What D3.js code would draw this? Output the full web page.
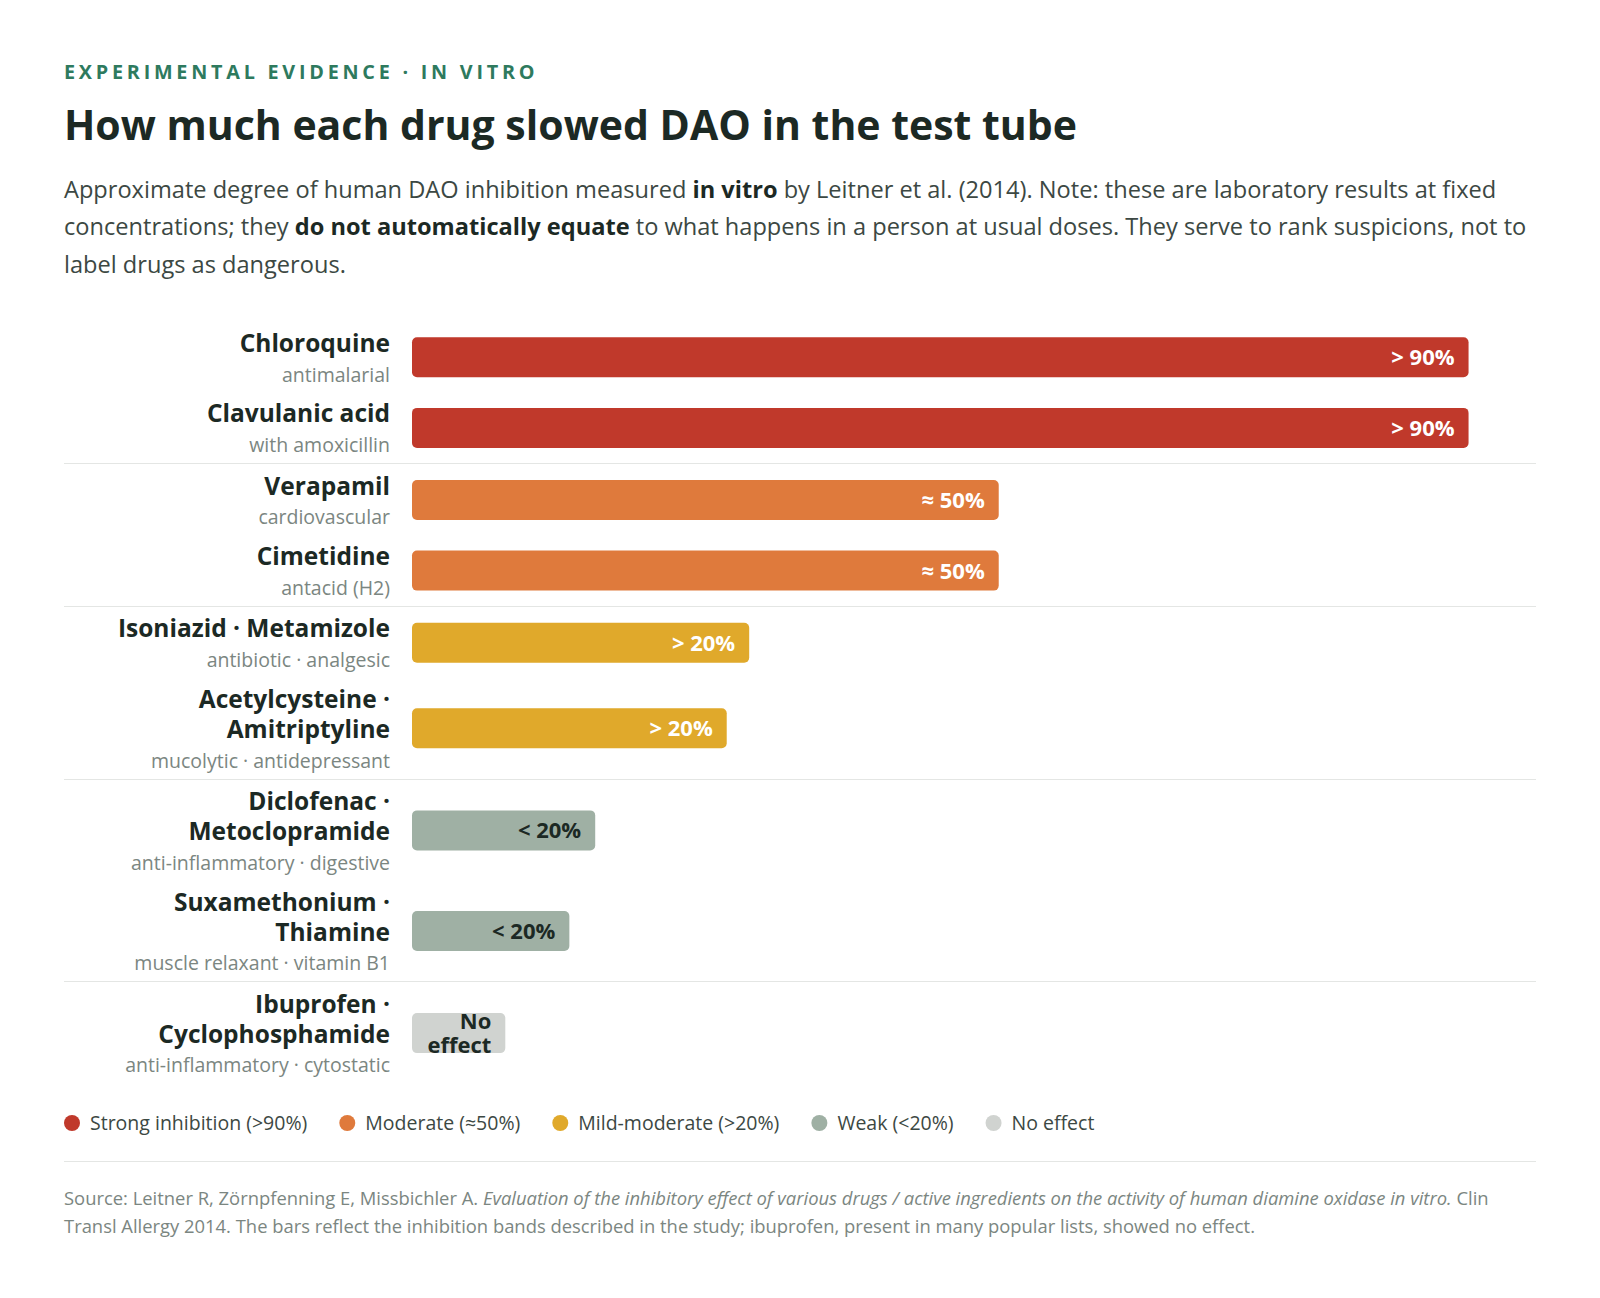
<!DOCTYPE html>
<html>
<head>
<meta charset="utf-8">
<script src="https://cdn.jsdelivr.net/npm/d3@7"></script>
<style>
  body { margin: 0; background: #fff; }
  svg { display: block; }
</style>
</head>
<body>
<div id="chart"></div>
<script>
// data
const drugs = [
  "Chloroquine", "Clavulanic acid", "Verapamil", "Cimetidine",
  "Isoniazid · Metamizole", "Acetylcysteine · Amitriptyline",
  "Diclofenac · Metoclopramide", "Suxamethonium · Thiamine",
  "Ibuprofen · Cyclophosphamide"
];
const drugClasses = [
  "antimalarial", "with amoxicillin", "cardiovascular", "antacid (H2)",
  "antibiotic · analgesic", "mucolytic · antidepressant",
  "anti-inflammatory · digestive", "muscle relaxant · vitamin B1",
  "anti-inflammatory · cytostatic"
];
const bands = ["strong", "strong", "moderate", "moderate", "mild", "mild", "weak", "weak", "none"];
const barLength = [94, 94, 52.2, 52.2, 30, 28, 16.3, 14, 8.3];
const barLabels = ["> 90%", "> 90%", "≈ 50%", "≈ 50%", "> 20%", "> 20%", "< 20%", "< 20%", "No effect"];

const bandKeys = ["strong", "moderate", "mild", "weak", "none"];
const bandNames = ["Strong inhibition (>90%)", "Moderate (≈50%)", "Mild-moderate (>20%)", "Weak (<20%)", "No effect"];
const bandColors = ["#c0392b", "#df7a3c", "#e0a92b", "#9fb0a4", "#d0d3d0"];

const FONT = "'Open Sans', 'Noto Sans', sans-serif";
const width = 1600, height = 1298;
const left = 64, right = 1536;
const labelRight = 390, barLeft = 412;

const svg = d3.select("#chart").append("svg")
  .attr("width", width)
  .attr("height", height)
  .style("font-family", FONT);

// header
svg.append("text")
  .attr("x", left).attr("y", 79)
  .attr("fill", "#2e7a5e")
  .attr("font-size", 19.8)
  .attr("font-weight", 700)
  .attr("letter-spacing", "0.19em")
  .text("EXPERIMENTAL EVIDENCE · IN VITRO");

svg.append("text")
  .attr("x", left).attr("y", 140)
  .attr("fill", "#1c2924")
  .attr("font-size", 41)
  .attr("font-weight", 700)
  .text("How much each drug slowed DAO in the test tube");

const intro = [
  [["Approximate degree of human DAO inhibition measured ", false], ["in vitro", true], [" by Leitner et al. (2014). Note: these are laboratory results at fixed", false]],
  [["concentrations; they ", false], ["do not automatically equate", true], [" to what happens in a person at usual doses. They serve to rank suspicions, not to", false]],
  [["label drugs as dangerous.", false]]
];
const introText = svg.append("text")
  .attr("fill", "#3c4843")
  .attr("font-size", 23.6);
intro.forEach((line, i) => {
  line.forEach(([t, bold], j) => {
    const ts = introText.append("tspan").text(t)
      .attr("font-weight", bold ? 700 : 400)
      .attr("fill", bold ? "#1c2924" : null);
    if (j === 0) ts.attr("x", left).attr("y", 197.5 + i * 37.5);
  });
});

// rows
const color = d3.scaleOrdinal().domain(bandKeys).range(bandColors);
const x = d3.scaleLinear().domain([0, 100]).range([0, right - barLeft]);

const NAME_FS = 24.5, NAME_LH = 30, SUB_FS = 19.5, SUB_H = 28.6;
const ROW_GAP = 12, BAR_H = 40;

// measure helper for wrapping the drug names into the label column
const probe = svg.append("text").attr("font-size", NAME_FS).attr("font-weight", 700);
function wrap(str, maxW) {
  const words = str.split(" ");
  const lines = [];
  let cur = "";
  words.forEach(w => {
    const test = cur ? cur + " " + w : w;
    probe.text(test);
    if (cur && probe.node().getComputedTextLength() > maxW) {
      lines.push(cur);
      cur = w;
    } else cur = test;
  });
  lines.push(cur);
  return lines;
}

const rows = drugs.map((d, i) => ({
  name: d, sub: drugClasses[i], band: bands[i],
  value: barLength[i], label: barLabels[i],
  lines: wrap(d, labelRight - left)
}));
probe.remove();

let y = 328;
const separators = [];
rows.forEach((r, i) => {
  if (i > 0) {
    if (r.band !== rows[i - 1].band) {
      separators.push(y + 6);
      y += 6 + 1 + 6.5;
    } else y += ROW_GAP;
  }
  r.top = y;
  r.h = r.lines.length * NAME_LH + SUB_H;
  r.mid = y + r.h / 2;
  y += r.h;
});

svg.append("g").selectAll("line")
  .data(separators)
  .join("line")
  .attr("x1", left).attr("x2", right)
  .attr("y1", d => Math.round(d) + 0.5).attr("y2", d => Math.round(d) + 0.5)
  .attr("stroke", "#e4e6e4");

const row = svg.append("g").selectAll("g")
  .data(rows)
  .join("g");

row.each(function (r) {
  const g = d3.select(this);
  r.lines.forEach((ln, k) => {
    g.append("text")
      .attr("x", labelRight)
      .attr("y", r.top + k * NAME_LH + 15 + 0.36 * NAME_FS)
      .attr("text-anchor", "end")
      .attr("font-size", NAME_FS)
      .attr("font-weight", 700)
      .attr("fill", "#1c2924")
      .text(ln);
  });
  g.append("text")
    .attr("x", labelRight)
    .attr("y", r.top + r.lines.length * NAME_LH + 23.6)
    .attr("text-anchor", "end")
    .attr("font-size", SUB_FS)
    .attr("fill", "#7b8681")
    .text(r.sub);
});

row.append("rect")
  .attr("x", barLeft)
  .attr("y", r => r.mid - BAR_H / 2)
  .attr("width", r => x(r.value))
  .attr("height", BAR_H)
  .attr("rx", 5)
  .attr("fill", r => color(r.band));

// value labels, wrapped if the bar is too short for them
const LAB_FS = 22;
row.each(function (r) {
  const g = d3.select(this);
  const t = g.append("text")
    .attr("text-anchor", "end")
    .attr("font-size", LAB_FS)
    .attr("font-weight", 700)
    .attr("fill", r.band === "weak" || r.band === "none" ? "#1c2924" : "#fff")
    .text(r.label);
  const xEnd = barLeft + x(r.value) - 14;
  if (t.node().getComputedTextLength() > x(r.value) - 14) {
    const words = r.label.split(" ");
    t.text(null);
    words.forEach((w, k) => {
      t.append("tspan")
        .attr("x", xEnd)
        .attr("y", r.mid + (k - (words.length - 1) / 2) * 23.5 + 0.36 * LAB_FS)
        .text(w);
    });
  } else {
    t.attr("x", xEnd).attr("y", r.mid + 0.36 * LAB_FS);
  }
});

// legend
const LEG_Y = 1123, LEG_FS = 19.5;
const legend = svg.append("g");
let lx = left;
bandKeys.forEach((k, i) => {
  legend.append("circle")
    .attr("cx", lx + 8).attr("cy", LEG_Y).attr("r", 8)
    .attr("fill", color(k));
  const t = legend.append("text")
    .attr("x", lx + 26).attr("y", LEG_Y + 0.36 * LEG_FS)
    .attr("font-size", LEG_FS)
    .attr("fill", "#3c4843")
    .text(bandNames[i]);
  lx += 26 + t.node().getComputedTextLength() + 32;
});

svg.append("line")
  .attr("x1", left).attr("x2", right)
  .attr("y1", 1161.5).attr("y2", 1161.5)
  .attr("stroke", "#e4e6e4");

// source note
const source = [
  [["Source: Leitner R, Zörnpfenning E, Missbichler A. ", false], ["Evaluation of the inhibitory effect of various drugs / active ingredients on the activity of human diamine oxidase in vitro.", true], [" Clin", false]],
  [["Transl Allergy 2014. The bars reflect the inhibition bands described in the study; ibuprofen, present in many popular lists, showed no effect.", false]]
];
const srcText = svg.append("text")
  .attr("fill", "#7b8681")
  .attr("font-size", 18.4);
source.forEach((line, i) => {
  line.forEach(([t, it], j) => {
    const ts = srcText.append("tspan").text(t)
      .attr("font-style", it ? "italic" : "normal");
    if (j === 0) ts.attr("x", left).attr("y", 1204.5 + i * 28.6);
  });
});
</script>
</body>
</html>
